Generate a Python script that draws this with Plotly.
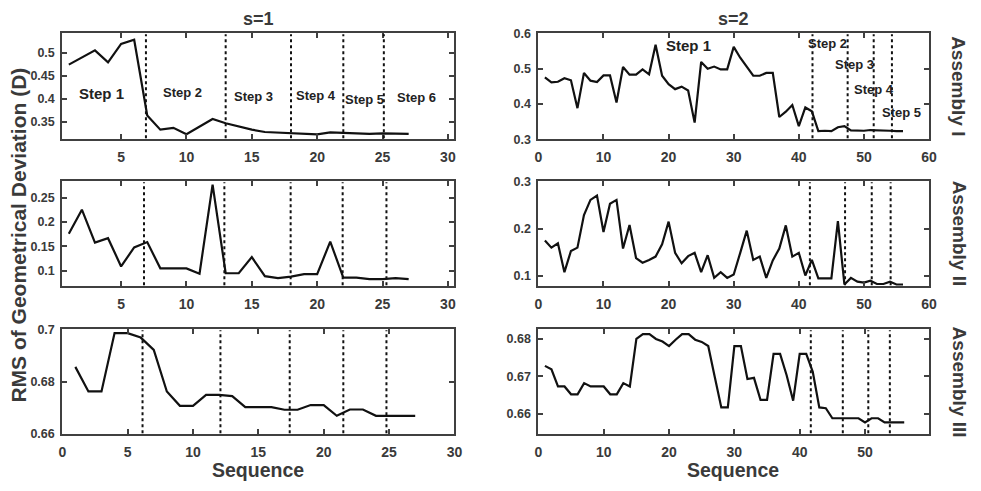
import plotly.graph_objects as go

# ---------------- data ----------------
seq_s1 = list(range(1, 28))
seq_s2 = list(range(1, 57))

asm1_s1 = [0.474, 0.490, 0.505, 0.479, 0.519, 0.528, 0.364, 0.333, 0.337, 0.323,
           0.340, 0.356, 0.347, 0.340, 0.333, 0.328, 0.327, 0.325, 0.324, 0.323,
           0.327, 0.326, 0.325, 0.324, 0.325, 0.324, 0.324]
asm2_s1 = [0.176, 0.2255, 0.158, 0.167, 0.109, 0.148, 0.159, 0.105, 0.105, 0.105,
           0.094, 0.277, 0.095, 0.095, 0.128, 0.089, 0.085, 0.088, 0.093, 0.093,
           0.160, 0.086, 0.086, 0.083, 0.083, 0.085, 0.083]
asm3_s1 = [0.6857, 0.6763, 0.6763, 0.6986, 0.6986, 0.6969, 0.6922, 0.6763, 0.6708, 0.6708,
           0.6750, 0.6750, 0.6745, 0.6703, 0.6703, 0.6703, 0.6693, 0.6693, 0.6711, 0.6711,
           0.6670, 0.6694, 0.6694, 0.6670, 0.6670, 0.6670, 0.6670]

asm1_s2 = [0.475, 0.461, 0.463, 0.473, 0.467, 0.388, 0.488, 0.466, 0.462, 0.481,
           0.481, 0.404, 0.505, 0.483, 0.483, 0.498, 0.484, 0.568, 0.480, 0.456,
           0.442, 0.449, 0.438, 0.347, 0.519, 0.500, 0.506, 0.498, 0.498, 0.562,
           0.531, 0.505, 0.480, 0.480, 0.488, 0.488, 0.363, 0.378, 0.397, 0.337,
           0.390, 0.379, 0.323, 0.324, 0.323, 0.334, 0.337, 0.325, 0.324, 0.324,
           0.326, 0.326, 0.325, 0.324, 0.323, 0.323]
asm2_s2 = [0.175, 0.160, 0.169, 0.108, 0.153, 0.160, 0.229, 0.261, 0.270, 0.193,
           0.253, 0.261, 0.158, 0.208, 0.138, 0.128, 0.134, 0.141, 0.167, 0.215,
           0.149, 0.127, 0.142, 0.149, 0.108, 0.144, 0.096, 0.108, 0.096, 0.103,
           0.149, 0.196, 0.134, 0.141, 0.096, 0.133, 0.158, 0.207, 0.141, 0.149,
           0.101, 0.134, 0.095, 0.095, 0.095, 0.216, 0.082, 0.096, 0.088, 0.086,
           0.090, 0.083, 0.083, 0.088, 0.082, 0.082]
asm3_s2 = [0.6728, 0.6719, 0.6673, 0.6673, 0.6652, 0.6652, 0.6682, 0.6673, 0.6673, 0.6673,
           0.6652, 0.6652, 0.6682, 0.6673, 0.6800, 0.6813, 0.6813, 0.6800, 0.6793, 0.6781,
           0.6798, 0.6813, 0.6813, 0.6798, 0.6792, 0.6781, 0.6698, 0.6617, 0.6617, 0.6781,
           0.6781, 0.6693, 0.6696, 0.6637, 0.6637, 0.6760, 0.6760, 0.6703, 0.6635, 0.6760,
           0.6760, 0.6712, 0.6617, 0.6615, 0.6588, 0.6588, 0.6588, 0.6588, 0.6588, 0.6577,
           0.6588, 0.6588, 0.6577, 0.6577, 0.6577, 0.6577]

# step boundaries (dotted lines)
bounds_asm1_s1 = [6.9, 13.0, 18.0, 22.0, 25.1]
bounds_asm2_s1 = [6.75, 12.9, 17.97, 21.95, 25.3]
bounds_asm3_s1 = [6.14, 12.1, 17.4, 21.5, 24.8]
bounds_asm1_s2 = [42.1, 47.5, 51.5, 54.3]
bounds_asm2_s2 = [41.7, 47.1, 51.2, 54.1]
bounds_asm3_s2 = [41.7, 46.6, 50.5, 53.8]

# step labels
step_text_s1 = ["Step 1", "Step 2", "Step 3", "Step 4", "Step 5", "Step 6"]
step_x_s1 = [3.5, 9.7, 15.1, 19.9, 23.6, 27.6]
step_y_s1 = [0.411, 0.413, 0.404, 0.407, 0.399, 0.402]
step_text_s2 = ["Step 1", "Step 2", "Step 3", "Step 4", "Step 5"]
step_x_s2 = [23.0, 44.4, 48.5, 51.5, 55.7]
step_y_s2 = [0.565, 0.572, 0.511, 0.441, 0.377]

# ticks
xt_s1 = [5, 10, 15, 20, 25, 30]
xt_s1_bottom = [0, 5, 10, 15, 20, 25, 30]
xt_s2 = [0, 10, 20, 30, 40, 50, 60]
yt_a1_s1 = [0.35, 0.4, 0.45, 0.5]
yl_a1_s1 = ["0.35", "0.4", "0.45", "0.5"]
yt_a2_s1 = [0.1, 0.15, 0.2, 0.25]
yl_a2_s1 = ["0.1", "0.15", "0.2", "0.25"]
yt_a3_s1 = [0.66, 0.68, 0.7]
yl_a3_s1 = ["0.66", "0.68", "0.7"]
yt_a1_s2 = [0.3, 0.4, 0.5, 0.6]
yl_a1_s2 = ["0.3", "0.4", "0.5", "0.6"]
yt_a2_s2 = [0.1, 0.2, 0.3]
yl_a2_s2 = ["0.1", "0.2", "0.3"]
yt_a3_s2 = [0.66, 0.67, 0.68]
yl_a3_s2 = ["0.66", "0.67", "0.68"]

col_titles = ["s=1", "s=2"]
row_titles = ["Assembly I", "Assembly II", "Assembly III"]
x_title = "Sequence"
y_title = "RMS of Geometrical Deviation (D)"

# ---------------- figure ----------------
W, H = 981, 491
FONT = "Liberation Sans, Arial, sans-serif"
TXT = "#3a3a3a"
AX = "#404040"

left_dom = [59 / W, 456 / W]
right_dom = [541 / W, 936.5 / W]
row_dom = [[1 - 137 / H, 1 - 28 / H], [1 - 288 / H, 1 - 180 / H], [1 - 440 / H, 1 - 332 / H]]

panels = [
    # (x, y, xdom, row index, xrange, xticks, yrange, yticks, ylabels, bounds)
    (seq_s1, asm1_s1, left_dom, 0, [0.5, 30.5], xt_s1, [0.312, 0.542], yt_a1_s1, yl_a1_s1, bounds_asm1_s1),
    (seq_s2, asm1_s2, right_dom, 0, [0, 60], xt_s2, [0.2995, 0.6005], yt_a1_s2, yl_a1_s2, bounds_asm1_s2),
    (seq_s1, asm2_s1, left_dom, 1, [0.5, 30.5], xt_s1, [0.068, 0.284], yt_a2_s1, yl_a2_s1, bounds_asm2_s1),
    (seq_s2, asm2_s2, right_dom, 1, [0, 60], xt_s2, [0.078, 0.3005], yt_a2_s2, yl_a2_s2, bounds_asm2_s2),
    (seq_s1, asm3_s1, left_dom, 2, [0, 30], xt_s1_bottom, [0.6599, 0.7001], yt_a3_s1, yl_a3_s1, bounds_asm3_s1),
    (seq_s2, asm3_s2, right_dom, 2, [0, 59.8], xt_s2, [0.6545, 0.6826], yt_a3_s2, yl_a3_s2, bounds_asm3_s2),
]

fig = go.Figure()
layout = dict(
    width=W, height=H, margin=dict(l=0, r=0, t=0, b=0),
    paper_bgcolor="white", plot_bgcolor="white", showlegend=False,
    font=dict(family=FONT, color=TXT),
)
shapes = []
annotations = []

for i, (xs, ys, xdom, ri, xr, xt, yr, yt, yl, bounds) in enumerate(panels, start=1):
    sfx = "" if i == 1 else str(i)
    xa, ya = "x" + sfx, "y" + sfx
    fig.add_trace(go.Scatter(x=xs, y=ys, mode="lines", xaxis=xa, yaxis=ya,
                             line=dict(color="#111111", width=2.2), hoverinfo="skip"))
    layout["xaxis" + sfx] = dict(
        domain=xdom, anchor=ya, range=xr, tickvals=xt, ticktext=[str(v) for v in xt],
        showgrid=False, zeroline=False, showline=True, linecolor=AX, linewidth=2,
        mirror="ticks", ticks="inside", ticklen=5, tickwidth=1.5, tickcolor=AX,
        ticklabelstandoff=4,
        tickfont=dict(family=FONT, size=14, color=TXT, weight="bold"),
    )
    layout["yaxis" + sfx] = dict(
        domain=row_dom[ri], anchor=xa, range=yr, tickvals=yt, ticktext=yl,
        showgrid=False, zeroline=False, showline=True, linecolor=AX, linewidth=2,
        mirror="ticks", ticks="inside", ticklen=5, tickwidth=1.5, tickcolor=AX,
        ticklabelstandoff=3,
        tickfont=dict(family=FONT, size=12.5, color=TXT, weight="bold"),
    )
    for b in bounds:
        shapes.append(dict(type="line", xref=xa, yref=ya + " domain", x0=b, x1=b, y0=0.01, y1=0.99,
                           line=dict(color="#111111", width=2, dash="dot")))

for k, (t, sx, sy) in enumerate(zip(step_text_s1, step_x_s1, step_y_s1)):
    annotations.append(dict(text=t, x=sx, y=sy, xref="x", yref="y", showarrow=False,
                            font=dict(family=FONT, size=15 if k == 0 else 13, color="#222222", weight="bold")))
for k, (t, sx, sy) in enumerate(zip(step_text_s2, step_x_s2, step_y_s2)):
    annotations.append(dict(text=t, x=sx, y=sy, xref="x2", yref="y2", showarrow=False,
                            font=dict(family=FONT, size=15 if k == 0 else 13, color="#222222", weight="bold")))

for t, cx in zip(col_titles, [257.5 / W, 738.5 / W]):
    annotations.append(dict(text=t, x=cx, y=1 - 13 / H, xref="paper", yref="paper", showarrow=False,
                            xanchor="center", yanchor="middle",
                            font=dict(family=FONT, size=18, color=TXT, weight="bold")))
    annotations.append(dict(text=x_title, x=cx, y=1 - 477 / H, xref="paper", yref="paper", showarrow=False,
                            xanchor="center", yanchor="middle",
                            font=dict(family=FONT, size=19.5, color=TXT, weight="bold")))

for t, d in zip(row_titles, row_dom):
    annotations.append(dict(text=t, x=967 / W, y=(d[0] + d[1]) / 2, xref="paper", yref="paper",
                            showarrow=False, textangle=90, xanchor="center", yanchor="middle",
                            font=dict(family=FONT, size=19, color=TXT, weight="bold")))

annotations.append(dict(text=y_title, x=15 / W, y=1 - 235 / H, xref="paper", yref="paper",
                        showarrow=False, textangle=-90, xanchor="center", yanchor="middle",
                        font=dict(family=FONT, size=21, color=TXT, weight="bold")))

layout["shapes"] = shapes
layout["annotations"] = annotations
fig.update_layout(**layout)
fig.write_html("out.html")
